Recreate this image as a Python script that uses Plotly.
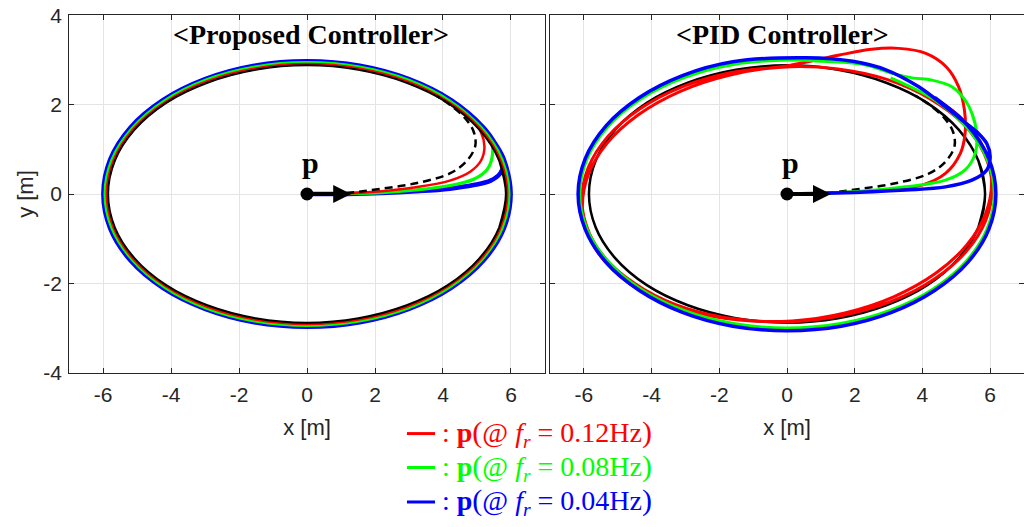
import plotly.graph_objects as go

# ---------------- data ----------------
tick_vals_x = [-6, -4, -2, 0, 2, 4, 6]
tick_text_x = ["-6", "-4", "-2", "0", "2", "4", "6"]
tick_vals_y = [-4, -2, 0, 2, 4]
tick_text_y = ["-4", "-2", "0", "2", "4"]

panel_titles = ["&lt;Proposed Controller&gt;", "&lt;PID Controller&gt;"]
legend_labels = ["0.12Hz", "0.08Hz", "0.04Hz"]
series_colors = ["#ff0000", "#00ff00", "#0000ff"]

# start point p and its heading arrow
p_x, p_y = 0.0, 0.0
arrow_x, arrow_y = 1.3, 0.0

# desired elliptical path (black, both panels)
ref_x = [5.65, 5.85, 5.65, 5.07, 4.14, 2.93, 1.51, 0, -1.51, -2.93, -4.14, -5.07, -5.65, -5.85,
         -5.65, -5.07, -4.14, -2.93, -1.51, 0, 1.51, 2.93, 4.14, 5.07, 5.65, 5.85, 5.65]
ref_y = [-0.75, 0, 0.75, 1.44, 2.04, 2.49, 2.78, 2.88, 2.78, 2.49, 2.04, 1.44, 0.75, 0,
         -0.75, -1.44, -2.04, -2.49, -2.78, -2.88, -2.78, -2.49, -2.04, -1.44, -0.75, 0, 0.75]

# desired approach from p to the ellipse (black dashed, both panels)
app_x = [0, 1.25, 2.2, 3.2, 4.2, 4.7, 4.95, 4.9, 4.65, 4.2, 3.8]
app_y = [0, 0.03, 0.12, 0.24, 0.46, 0.74, 1.08, 1.4, 1.7, 2.0, 2.2]

# proposed controller trajectories
prop_red_x = [0, 1.2, 2.2, 3.2, 4.2, 4.8, 5.12, 5.22, 5.12, 4.88, 4.16, 2.95, 1.52, 0, -1.52, -2.95,
              -4.16, -5.10, -5.69, -5.89, -5.69, -5.10, -4.16, -2.95, -1.52, 0, 1.52, 2.95, 4.16,
              5.10, 5.69, 5.89, 5.69, 5.10, 4.16]
prop_red_y = [0, 0.01, 0.06, 0.15, 0.3, 0.5, 0.75, 1.05, 1.38, 1.63, 2.06, 2.52, 2.81, 2.91, 2.81,
              2.52, 2.06, 1.46, 0.75, 0, -0.75, -1.46, -2.06, -2.52, -2.81, -2.91, -2.81, -2.52,
              -2.06, -1.46, -0.75, 0, 0.75, 1.46, 2.06]
prop_green_x = [0, 1.2, 2.2, 3.2, 4.2, 4.9, 5.3, 5.45, 5.42, 5.14, 4.20, 2.97, 1.54, 0, -1.54, -2.97,
                -4.20, -5.14, -5.74, -5.94, -5.74, -5.14, -4.20, -2.97, -1.54, 0, 1.54, 2.97, 4.20,
                5.14, 5.74, 5.94, 5.74, 5.14, 4.20]
prop_green_y = [0, 0.01, 0.03, 0.09, 0.19, 0.33, 0.55, 0.85, 1.18, 1.47, 2.08, 2.55, 2.84, 2.94,
                2.84, 2.55, 2.08, 1.47, 0.76, 0, -0.76, -1.47, -2.08, -2.55, -2.84, -2.94, -2.84,
                -2.55, -2.08, -1.47, -0.76, 0, 0.76, 1.47, 2.08]
prop_blue_x = [0, 1.2, 2.2, 3.2, 4.2, 4.9, 5.4, 5.68, 5.79, 5.56, 5.19, 4.24, 3.0, 1.55, 0, -1.55,
               -3.0, -4.24, -5.19, -5.79, -5.99, -5.79, -5.19, -4.24, -3.0, -1.55, 0, 1.55, 3.0,
               4.24, 5.19, 5.79, 5.99, 5.79, 5.56, 5.19, 4.24]
prop_blue_y = [0, 0, 0.02, 0.06, 0.12, 0.2, 0.3, 0.46, 0.7, 1.1, 1.49, 2.10, 2.57, 2.87, 2.97, 2.87,
               2.57, 2.10, 1.49, 0.77, 0, -0.77, -1.49, -2.10, -2.57, -2.87, -2.97, -2.87, -2.57,
               -2.10, -1.49, -0.77, 0, 0.77, 1.1, 1.49, 2.10]

# PID controller trajectories
pid_red_x = [0, 1.36, 3.0, 3.99, 4.68, 5.12, 5.26, 5.24, 5.07, 4.7, 4.1, 3.3, 2.5, 1.55, 0.87,
             -0.08, -1.64, -3.10, -4.34, -5.29, -5.87, -6.06, -5.83, -5.21, -4.23, -2.97, -1.50,
             0.08, 1.64, 3.10, 4.34, 5.29, 5.87, 6.06, 5.83, 5.21, 4.23, 2.97, 1.50,
             -0.15, -1.71, -3.15, -4.38, -5.31, -5.87, -6.04, -5.80, -5.16, -4.17, -2.89, -1.42,
             0.15, 1.71, 3.15, 4.38, 5.31, 5.87, 6.04, 5.80, 5.16, 4.17]
pid_red_y = [0, 0.02, 0.1, 0.2, 0.46, 0.91, 1.36, 1.88, 2.4, 2.85, 3.15, 3.26, 3.24, 3.11, 3.0,
             2.86, 2.72, 2.40, 1.91, 1.29, 0.59, -0.16, -0.89, -1.57, -2.13, -2.56, -2.80,
             -2.86, -2.72, -2.40, -1.91, -1.29, -0.59, 0.16, 0.89, 1.57, 2.13, 2.56, 2.80,
             2.84, 2.66, 2.30, 1.78, 1.14, 0.43, -0.32, -1.04, -1.69, -2.23, -2.62, -2.82,
             -2.84, -2.66, -2.30, -1.78, -1.14, -0.43, 0.32, 1.04, 1.69, 2.23]
pid_green_x = [0, 1.36, 3.5, 4.68, 5.26, 5.56, 5.6, 5.46, 5.26, 4.87, 4.28, 3.7, 3.11, 2.33, 1.06,
               0, -1.58, -3.06, -4.33, -5.30, -5.91, -6.12, -5.91, -5.30, -4.33, -3.06, -1.58, 0,
               1.58, 3.06, 4.33, 5.30, 5.91, 6.12, 5.91, 5.30, 4.33, 3.06]
pid_green_y = [0, 0.02, 0.16, 0.31, 0.54, 0.91, 1.36, 1.81, 2.1, 2.4, 2.55, 2.6, 2.7, 2.89, 2.97,
               3.0, 2.9, 2.6, 2.12, 1.5, 0.78, 0, -0.78, -1.5, -2.12, -2.6, -2.9, -3.0,
               -2.9, -2.6, -2.12, -1.5, -0.78, 0, 0.78, 1.5, 2.12, 2.6]
pid_blue_x = [0, 1.36, 3.5, 4.68, 5.46, 5.9, 6.0, 5.9, 5.65, 5.26, 4.68, 3.89, 2.92, 1.94, 0.57,
              -1.60, -3.09, -4.36, -5.34, -5.96, -6.17, -5.96, -5.34, -4.36, -3.09, -1.60, 0,
              1.60, 3.09, 4.36, 5.34, 5.96, 6.17, 5.96, 5.34, 4.36]
pid_blue_y = [0, 0.02, 0.09, 0.16, 0.31, 0.54, 0.84, 1.13, 1.36, 1.6, 1.95, 2.4, 2.78, 2.97, 3.05,
              2.96, 2.65, 2.16, 1.53, 0.79, 0, -0.79, -1.53, -2.16, -2.65, -2.96, -3.06,
              -2.96, -2.65, -2.16, -1.53, -0.79, 0, 0.79, 1.53, 2.16]

# ---------------- figure ----------------
INK = "#262626"
TICK_FONT = dict(family="Liberation Sans, Arial, sans-serif", size=21, color=INK)
TITLE_FONT = dict(family="Liberation Sans, Arial, sans-serif", size=22, color=INK)

fig = go.Figure()


def line(x, y, color, width, xa, ya, name, dash="solid"):
    fig.add_trace(go.Scatter(x=x, y=y, mode="lines", name=name, xaxis=xa, yaxis=ya,
                             line=dict(color=color, width=width, shape="spline", smoothing=1.0,
                                       dash=dash),
                             showlegend=False, hoverinfo="name"))


# left panel: proposed controller
line(prop_blue_x, prop_blue_y, series_colors[2], 4.5, "x", "y", "0.04Hz")
line(prop_green_x, prop_green_y, series_colors[1], 3.2, "x", "y", "0.08Hz")
line(prop_red_x, prop_red_y, series_colors[0], 2.5, "x", "y", "0.12Hz")
line(ref_x, ref_y, "black", 2, "x", "y", "reference")
line(app_x, app_y, "black", 2.5, "x", "y", "reference approach", dash="8px,5px")

# right panel: PID controller
line(ref_x, ref_y, "black", 2.5, "x2", "y2", "reference")
line(app_x, app_y, "black", 2.5, "x2", "y2", "reference approach", dash="8px,5px")
line(pid_red_x, pid_red_y, series_colors[0], 3, "x2", "y2", "0.12Hz")
line(pid_green_x, pid_green_y, series_colors[1], 3, "x2", "y2", "0.08Hz")
line(pid_blue_x, pid_blue_y, series_colors[2], 3.5, "x2", "y2", "0.04Hz")

# start point markers
for xa, ya in (("x", "y"), ("x2", "y2")):
    fig.add_trace(go.Scatter(x=[p_x], y=[p_y], mode="markers", xaxis=xa, yaxis=ya,
                             marker=dict(color="black", size=13), showlegend=False,
                             hoverinfo="skip"))

axis_common = dict(range=[-7, 7], ticks="inside", ticklen=5, tickcolor=INK, tickwidth=1,
                   showline=True, linecolor=INK, linewidth=1, mirror="ticks",
                   showgrid=True, gridcolor="#e4e4e4", gridwidth=1, zeroline=False,
                   tickfont=TICK_FONT, fixedrange=True, automargin=False,
                   ticklabeloverflow="allow")
yaxis_common = dict(axis_common, range=[-4, 4])

# the page body adds an 8px margin, so the figure is 8px smaller than the window
fig.update_layout(
    width=1024, height=519,
    margin=dict(l=0, r=0, t=0, b=0, pad=0, autoexpand=False),
    paper_bgcolor="white", plot_bgcolor="white",
    xaxis=dict(axis_common, domain=[0.0596, 0.5244], anchor="y", ticklabelstandoff=3,
               tickvals=tick_vals_x, ticktext=tick_text_x,
               title=dict(text="x [m]", font=TITLE_FONT, standoff=14)),
    xaxis2=dict(axis_common, domain=[0.5293, 0.9922], anchor="y2", ticklabelstandoff=3,
                tickvals=tick_vals_x, ticktext=tick_text_x,
                title=dict(text="x [m]", font=TITLE_FONT, standoff=14)),
    yaxis=dict(yaxis_common, domain=[0.2973, 0.9859], anchor="x", ticklabelstandoff=2,
               tickvals=tick_vals_y, ticktext=tick_text_y,
               title=dict(text="y [m]", font=TITLE_FONT, standoff=3)),
    yaxis2=dict(yaxis_common, domain=[0.2973, 0.9859], anchor="x2",
                tickvals=tick_vals_y, ticktext=tick_text_y, showticklabels=False),
)

annotations = []
# panel titles
for txt, xc in zip(panel_titles, [0.2959, 0.7559]):
    annotations.append(dict(text="<b>" + txt + "</b>", xref="paper", yref="paper", x=xc, y=0.948,
                            xanchor="center", yanchor="middle", showarrow=False,
                            font=dict(family="Liberation Serif, serif", size=28, color="black")))
# p labels and heading arrows
for xa, ya in (("x", "y"), ("x2", "y2")):
    annotations.append(dict(text="<b>p</b>", xref=xa, yref=ya, x=p_x + 0.1, y=p_y + 0.7,
                            xanchor="center", yanchor="middle", showarrow=False,
                            font=dict(family="Liberation Serif, serif", size=30, color="black")))
    annotations.append(dict(text="", xref=xa, yref=ya, x=arrow_x, y=arrow_y,
                            axref=xa, ayref=ya, ax=p_x, ay=p_y, showarrow=True,
                            arrowhead=2, arrowwidth=4, arrowsize=0.9, arrowcolor="black",
                            standoff=0, startstandoff=0))
# legend rows
row_y = [0.180, 0.1146, 0.0482]
shapes = []
for lab, col, yy in zip(legend_labels, series_colors, row_y):
    big = '<span style="font-size:30px;font-weight:normal">%s</span>'
    txt = (": <b>p</b>" + big % "(" + "@ <i>f<sub>r</sub></i> = " + lab + big % ")")
    annotations.append(dict(text=txt, xref="paper", yref="paper", x=0.4219, y=yy,
                            xanchor="left", yanchor="middle", showarrow=False,
                            font=dict(family="Liberation Serif, serif", size=28, color=col)))
    shapes.append(dict(type="line", xref="paper", yref="paper", x0=0.3896, x1=0.4170,
                       y0=yy, y1=yy, line=dict(color=col, width=3)))

fig.update_layout(annotations=annotations, shapes=shapes)

fig.write_html("out.html")
